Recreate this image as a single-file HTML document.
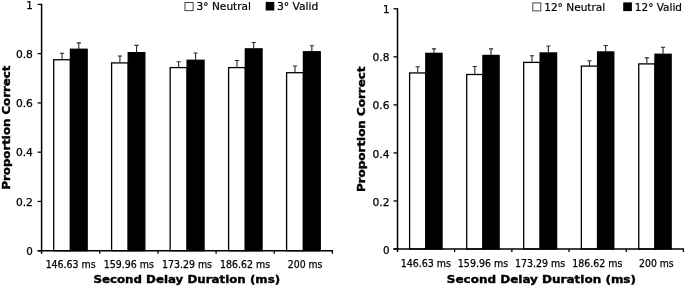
<!DOCTYPE html>
<html><head><meta charset="utf-8"><title>Proportion Correct by Second Delay Duration</title>
<style>
html,body{margin:0;padding:0;background:#fff;}
svg{display:block;will-change:transform;filter:blur(0.3px);font-family:'DejaVu Sans','Liberation Sans',sans-serif;fill:#000;}
</style></head>
<body>
<svg width="685" height="287" viewBox="0 0 685 287">
<rect width="685" height="287" fill="#fff"/>
<g>
<rect x="53.70" y="59.75" width="16.73" height="190.95" fill="#fff" stroke="#000" stroke-width="1.3"/>
<rect x="70.43" y="49.25" width="16.73" height="201.45" fill="#000" stroke="#000" stroke-width="1.3"/>
<path d="M62.06 59.75V53.30M59.96 53.30H64.16" stroke="#2a2a2a" stroke-width="1.1" fill="none"/>
<path d="M78.79 49.25V42.90M76.69 42.90H80.89" stroke="#2a2a2a" stroke-width="1.1" fill="none"/>
<rect x="111.60" y="62.90" width="16.62" height="187.80" fill="#fff" stroke="#000" stroke-width="1.3"/>
<rect x="128.22" y="52.65" width="16.62" height="198.05" fill="#000" stroke="#000" stroke-width="1.3"/>
<path d="M119.91 62.90V56.00M117.81 56.00H122.01" stroke="#2a2a2a" stroke-width="1.1" fill="none"/>
<path d="M136.54 52.65V45.40M134.44 45.40H138.64" stroke="#2a2a2a" stroke-width="1.1" fill="none"/>
<rect x="170.15" y="67.60" width="16.95" height="183.10" fill="#fff" stroke="#000" stroke-width="1.3"/>
<rect x="187.10" y="60.25" width="16.95" height="190.45" fill="#000" stroke="#000" stroke-width="1.3"/>
<path d="M178.62 67.60V61.80M176.53 61.80H180.72" stroke="#2a2a2a" stroke-width="1.1" fill="none"/>
<path d="M195.58 60.25V53.00M193.48 53.00H197.68" stroke="#2a2a2a" stroke-width="1.1" fill="none"/>
<rect x="228.60" y="67.60" width="16.73" height="183.10" fill="#fff" stroke="#000" stroke-width="1.3"/>
<rect x="245.32" y="48.85" width="16.73" height="201.85" fill="#000" stroke="#000" stroke-width="1.3"/>
<path d="M236.96 67.60V60.45M234.86 60.45H239.06" stroke="#2a2a2a" stroke-width="1.1" fill="none"/>
<path d="M253.69 48.85V42.50M251.59 42.50H255.79" stroke="#2a2a2a" stroke-width="1.1" fill="none"/>
<rect x="286.60" y="72.70" width="16.82" height="178.00" fill="#fff" stroke="#000" stroke-width="1.3"/>
<rect x="303.43" y="51.75" width="16.82" height="198.95" fill="#000" stroke="#000" stroke-width="1.3"/>
<path d="M295.01 72.70V66.00M292.91 66.00H297.11" stroke="#2a2a2a" stroke-width="1.1" fill="none"/>
<path d="M311.84 51.75V45.70M309.74 45.70H313.94" stroke="#2a2a2a" stroke-width="1.1" fill="none"/>
<path d="M41.60 3.80V253.70M37.60 250.70H333.00" stroke="#000" stroke-width="1.5" fill="none"/>
<path d="M37.60 250.70H41.60" stroke="#000" stroke-width="1.3"/>
<text x="32.9" y="254.80" font-size="10.3" stroke="#000" stroke-width="0.25" text-anchor="end">0</text>
<path d="M37.60 201.44H41.60" stroke="#000" stroke-width="1.3"/>
<text x="32.9" y="205.54" font-size="10.3" stroke="#000" stroke-width="0.25" text-anchor="end" textLength="17" lengthAdjust="spacingAndGlyphs">0.2</text>
<path d="M37.60 152.18H41.60" stroke="#000" stroke-width="1.3"/>
<text x="32.9" y="156.28" font-size="10.3" stroke="#000" stroke-width="0.25" text-anchor="end" textLength="17" lengthAdjust="spacingAndGlyphs">0.4</text>
<path d="M37.60 102.92H41.60" stroke="#000" stroke-width="1.3"/>
<text x="32.9" y="107.02" font-size="10.3" stroke="#000" stroke-width="0.25" text-anchor="end" textLength="17" lengthAdjust="spacingAndGlyphs">0.6</text>
<path d="M37.60 53.66H41.60" stroke="#000" stroke-width="1.3"/>
<text x="32.9" y="57.76" font-size="10.3" stroke="#000" stroke-width="0.25" text-anchor="end" textLength="17" lengthAdjust="spacingAndGlyphs">0.8</text>
<path d="M37.60 4.40H41.60" stroke="#000" stroke-width="1.3"/>
<text x="32.9" y="8.50" font-size="10.3" stroke="#000" stroke-width="0.25" text-anchor="end">1</text>
<path d="M99.76 250.70V253.70" stroke="#000" stroke-width="1.3"/>
<path d="M157.92 250.70V253.70" stroke="#000" stroke-width="1.3"/>
<path d="M216.08 250.70V253.70" stroke="#000" stroke-width="1.3"/>
<path d="M274.24 250.70V253.70" stroke="#000" stroke-width="1.3"/>
<path d="M332.40 250.70V253.70" stroke="#000" stroke-width="1.3"/>
<text x="45.63" y="267.6" font-size="9.7" stroke="#000" stroke-width="0.25" textLength="50.1" lengthAdjust="spacingAndGlyphs">146.63 ms</text>
<text x="103.79" y="267.6" font-size="9.7" stroke="#000" stroke-width="0.25" textLength="50.1" lengthAdjust="spacingAndGlyphs">159.96 ms</text>
<text x="161.95" y="267.6" font-size="9.7" stroke="#000" stroke-width="0.25" textLength="50.1" lengthAdjust="spacingAndGlyphs">173.29 ms</text>
<text x="220.11" y="267.6" font-size="9.7" stroke="#000" stroke-width="0.25" textLength="50.1" lengthAdjust="spacingAndGlyphs">186.62 ms</text>
<text x="287.82" y="267.6" font-size="9.7" stroke="#000" stroke-width="0.25" textLength="34.6" lengthAdjust="spacingAndGlyphs">200 ms</text>
<text x="93.4" y="282.9" font-size="11.1" font-weight="bold" stroke="#000" stroke-width="0.4" textLength="186.7" lengthAdjust="spacingAndGlyphs">Second Delay Duration (ms)</text>
<text transform="translate(9.6,189.6) rotate(-90)" font-size="11.1" font-weight="bold" stroke="#000" stroke-width="0.4" textLength="124.0" lengthAdjust="spacingAndGlyphs">Proportion Correct</text>
<rect x="185.0" y="2.5" width="8.1" height="8.1" fill="#fff" stroke="#444" stroke-width="1"/>
<text x="196.6" y="10.3" font-size="10.3" stroke="#000" stroke-width="0.2" textLength="54.4" lengthAdjust="spacingAndGlyphs">3° Neutral</text>
<rect x="265.7" y="1.9" width="8.6" height="8.6" fill="#000"/>
<text x="276.9" y="10.3" font-size="10.3" stroke="#000" stroke-width="0.2" textLength="41.5" lengthAdjust="spacingAndGlyphs">3° Valid</text>
</g>
<g>
<rect x="409.60" y="72.95" width="16.22" height="176.05" fill="#fff" stroke="#000" stroke-width="1.3"/>
<rect x="425.83" y="53.35" width="16.22" height="195.65" fill="#000" stroke="#000" stroke-width="1.3"/>
<path d="M417.71 72.95V66.80M415.61 66.80H419.81" stroke="#2a2a2a" stroke-width="1.1" fill="none"/>
<path d="M433.94 53.35V48.90M431.84 48.90H436.04" stroke="#2a2a2a" stroke-width="1.1" fill="none"/>
<rect x="466.70" y="74.50" width="16.22" height="174.50" fill="#fff" stroke="#000" stroke-width="1.3"/>
<rect x="482.92" y="55.45" width="16.22" height="193.55" fill="#000" stroke="#000" stroke-width="1.3"/>
<path d="M474.81 74.50V66.50M472.71 66.50H476.91" stroke="#2a2a2a" stroke-width="1.1" fill="none"/>
<path d="M491.04 55.45V48.90M488.94 48.90H493.14" stroke="#2a2a2a" stroke-width="1.1" fill="none"/>
<rect x="523.70" y="62.40" width="16.45" height="186.60" fill="#fff" stroke="#000" stroke-width="1.3"/>
<rect x="540.15" y="52.95" width="16.45" height="196.05" fill="#000" stroke="#000" stroke-width="1.3"/>
<path d="M531.93 62.40V55.80M529.83 55.80H534.03" stroke="#2a2a2a" stroke-width="1.1" fill="none"/>
<path d="M548.38 52.95V46.00M546.28 46.00H550.48" stroke="#2a2a2a" stroke-width="1.1" fill="none"/>
<rect x="581.35" y="66.10" width="16.22" height="182.90" fill="#fff" stroke="#000" stroke-width="1.3"/>
<rect x="597.58" y="51.95" width="16.22" height="197.05" fill="#000" stroke="#000" stroke-width="1.3"/>
<path d="M589.46 66.10V60.80M587.36 60.80H591.56" stroke="#2a2a2a" stroke-width="1.1" fill="none"/>
<path d="M605.69 51.95V45.50M603.59 45.50H607.79" stroke="#2a2a2a" stroke-width="1.1" fill="none"/>
<rect x="638.75" y="63.90" width="16.20" height="185.10" fill="#fff" stroke="#000" stroke-width="1.3"/>
<rect x="654.95" y="54.25" width="16.20" height="194.75" fill="#000" stroke="#000" stroke-width="1.3"/>
<path d="M646.85 63.90V57.90M644.75 57.90H648.95" stroke="#2a2a2a" stroke-width="1.1" fill="none"/>
<path d="M663.05 54.25V47.20M660.95 47.20H665.15" stroke="#2a2a2a" stroke-width="1.1" fill="none"/>
<path d="M397.50 8.20V252.00M393.50 249.00H684.00" stroke="#000" stroke-width="1.5" fill="none"/>
<path d="M393.50 249.00H397.50" stroke="#000" stroke-width="1.3"/>
<text x="389.5" y="253.60" font-size="10.3" stroke="#000" stroke-width="0.25" text-anchor="end">0</text>
<path d="M393.50 200.96H397.50" stroke="#000" stroke-width="1.3"/>
<text x="389.5" y="205.56" font-size="10.3" stroke="#000" stroke-width="0.25" text-anchor="end" textLength="17" lengthAdjust="spacingAndGlyphs">0.2</text>
<path d="M393.50 152.92H397.50" stroke="#000" stroke-width="1.3"/>
<text x="389.5" y="157.52" font-size="10.3" stroke="#000" stroke-width="0.25" text-anchor="end" textLength="17" lengthAdjust="spacingAndGlyphs">0.4</text>
<path d="M393.50 104.88H397.50" stroke="#000" stroke-width="1.3"/>
<text x="389.5" y="109.48" font-size="10.3" stroke="#000" stroke-width="0.25" text-anchor="end" textLength="17" lengthAdjust="spacingAndGlyphs">0.6</text>
<path d="M393.50 56.84H397.50" stroke="#000" stroke-width="1.3"/>
<text x="389.5" y="61.44" font-size="10.3" stroke="#000" stroke-width="0.25" text-anchor="end" textLength="17" lengthAdjust="spacingAndGlyphs">0.8</text>
<path d="M393.50 8.80H397.50" stroke="#000" stroke-width="1.3"/>
<text x="389.5" y="13.40" font-size="10.3" stroke="#000" stroke-width="0.25" text-anchor="end">1</text>
<path d="M454.68 249.00V252.00" stroke="#000" stroke-width="1.3"/>
<path d="M511.86 249.00V252.00" stroke="#000" stroke-width="1.3"/>
<path d="M569.04 249.00V252.00" stroke="#000" stroke-width="1.3"/>
<path d="M626.22 249.00V252.00" stroke="#000" stroke-width="1.3"/>
<path d="M683.40 249.00V252.00" stroke="#000" stroke-width="1.3"/>
<text x="400.69" y="266.9" font-size="9.7" stroke="#000" stroke-width="0.25" textLength="50.2" lengthAdjust="spacingAndGlyphs">146.63 ms</text>
<text x="457.87" y="266.9" font-size="9.7" stroke="#000" stroke-width="0.25" textLength="50.2" lengthAdjust="spacingAndGlyphs">159.96 ms</text>
<text x="515.05" y="266.9" font-size="9.7" stroke="#000" stroke-width="0.25" textLength="50.2" lengthAdjust="spacingAndGlyphs">173.29 ms</text>
<text x="572.23" y="266.9" font-size="9.7" stroke="#000" stroke-width="0.25" textLength="50.2" lengthAdjust="spacingAndGlyphs">186.62 ms</text>
<text x="639.11" y="266.9" font-size="9.7" stroke="#000" stroke-width="0.25" textLength="34.6" lengthAdjust="spacingAndGlyphs">200 ms</text>
<text x="446.8" y="283.4" font-size="11.1" font-weight="bold" stroke="#000" stroke-width="0.4" textLength="189.2" lengthAdjust="spacingAndGlyphs">Second Delay Duration (ms)</text>
<text transform="translate(364.5,192.0) rotate(-90)" font-size="11.1" font-weight="bold" stroke="#000" stroke-width="0.4" textLength="125.5" lengthAdjust="spacingAndGlyphs">Proportion Correct</text>
<rect x="532.8" y="2.9" width="8.0" height="8.0" fill="#fff" stroke="#444" stroke-width="1"/>
<text x="544.2" y="10.7" font-size="10.3" stroke="#000" stroke-width="0.2" textLength="61.0" lengthAdjust="spacingAndGlyphs">12° Neutral</text>
<rect x="623.2" y="2.4" width="8.7" height="8.7" fill="#000"/>
<text x="634.8" y="10.7" font-size="10.3" stroke="#000" stroke-width="0.2" textLength="47.2" lengthAdjust="spacingAndGlyphs">12° Valid</text>
</g>
</svg>
</body></html>
